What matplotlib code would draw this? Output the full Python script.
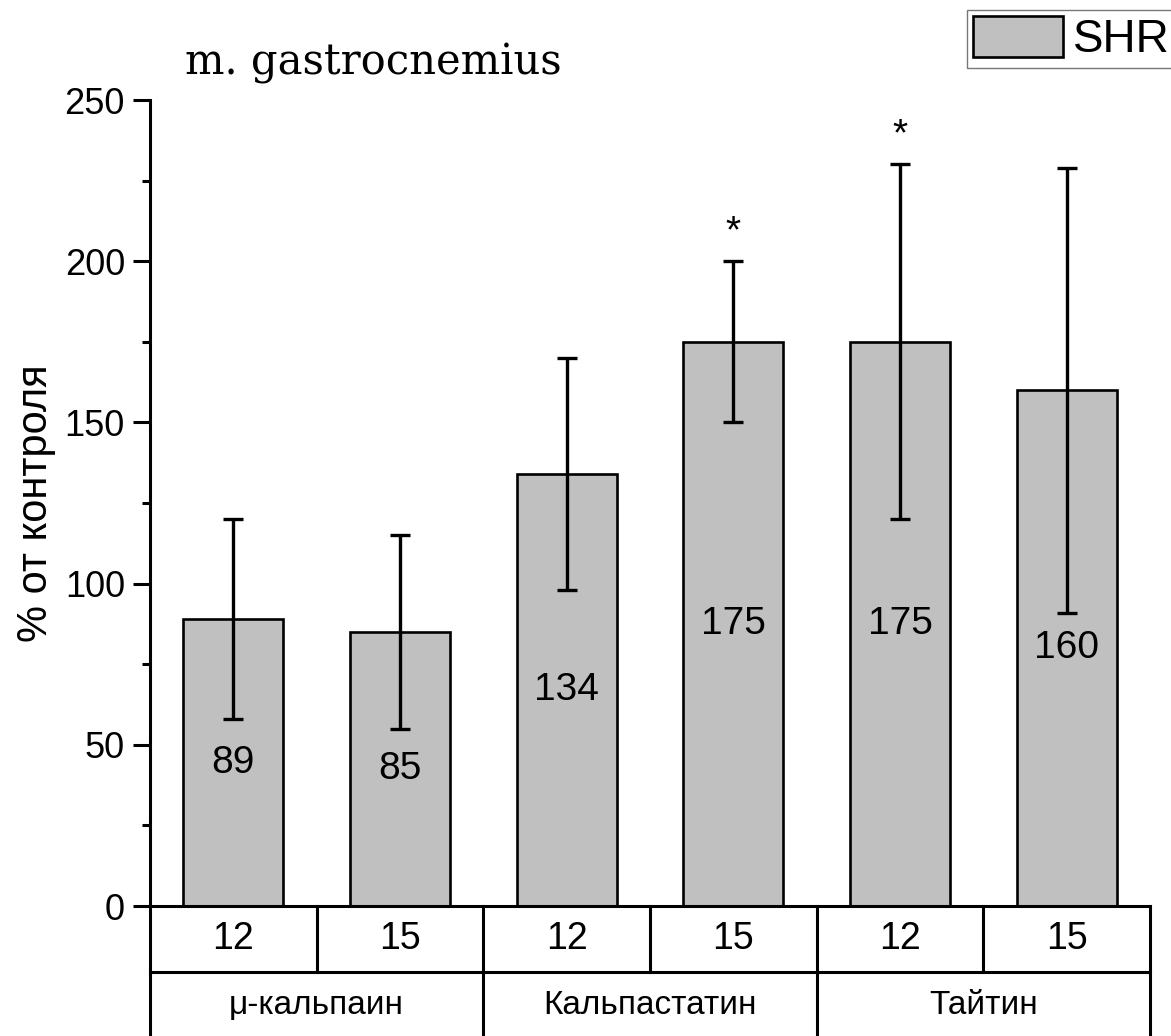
import matplotlib
matplotlib.use("Agg")
import matplotlib.pyplot as plt
import numpy as np

plt.rcParams['font.family'] = ['Liberation Sans', 'DejaVu Sans']

# Data
proteins = ["μ-кальпаин", "Кальпастатин", "Тайтин"]
ages = ["12", "15", "12", "15", "12", "15"]
values = [89, 85, 134, 175, 175, 160]
err_upper = [120, 115, 170, 200, 230, 229]
err_lower = [58, 55, 98, 150, 120, 91]
significant = [False, False, False, True, True, False]

W, H = 1171, 1036
fig = plt.figure(figsize=(W / 100, H / 100), dpi=100)

# Main bar axes
ax = fig.add_axes([150 / W, (H - 906) / H, 1000 / W, 806 / H])
x = np.arange(len(values))
yerr = [np.array(values) - np.array(err_lower), np.array(err_upper) - np.array(values)]
ax.bar(x, values, width=0.6, color="#c0c0c0", edgecolor="black", linewidth=1.9,
       label="SHR", zorder=2)
ax.errorbar(x, values, yerr=yerr, fmt="none", ecolor="black", elinewidth=2.4,
            capsize=7, capthick=2.4, zorder=3)

for xi, v in zip(x, values):
    ax.text(xi, v / 2, str(v), ha="center", va="center", fontsize=28, zorder=4)
for xi, top, sig in zip(x, err_upper, significant):
    if sig:
        ax.text(xi, top + 9, "*", ha="center", va="center", fontsize=28)

ax.set_xlim(-0.5, len(values) - 0.5)
ax.set_ylim(0, 250)
ax.set_yticks(np.arange(0, 251, 50))
ax.set_yticks(np.arange(25, 250, 50), minor=True)
ax.set_xticks([])
for s in ["top", "right", "bottom"]:
    ax.spines[s].set_visible(False)
ax.spines["left"].set_linewidth(2.2)
ax.tick_params(axis="y", which="major", direction="out", length=12, width=2.2,
               labelsize=26, pad=6)
ax.tick_params(axis="y", which="minor", direction="out", length=6, width=2.2)
ax.set_ylabel("% от контроля", fontsize=30, labelpad=6)
ax.set_title("m. gastrocnemius", fontsize=30, family="DejaVu Serif",
             loc="left", x=0.035, y=1.0, pad=18)

# Category table under the bars
tab = fig.add_axes([150 / W, (H - 1038) / H, 1000 / W, 132 / H])
tab.set_xlim(-0.5, len(values) - 0.5)
tab.set_ylim(0, 2)
tab.axis("off")
lw = 2.2
tab.plot([-0.5, len(values) - 0.5], [2, 2], color="black", lw=lw, clip_on=False)
tab.plot([-0.5, len(values) - 0.5], [1, 1], color="black", lw=lw, clip_on=False)
tab.plot([-0.5, -0.5], [0, 2], color="black", lw=lw, clip_on=False)
tab.plot([len(values) - 0.5] * 2, [0, 2], color="black", lw=lw, clip_on=False)
for i in range(1, len(values)):
    tab.plot([i - 0.5, i - 0.5], [1, 2] if i % 2 else [0, 2], color="black",
             lw=lw, clip_on=False)
for xi, a in zip(x, ages):
    tab.text(xi, 1.5, a, ha="center", va="center", fontsize=27)
for gi, p in enumerate(proteins):
    tab.text(2 * gi + 0.5, 0.5, p, ha="center", va="center", fontsize=24)

# Legend
handles, labels = ax.get_legend_handles_labels()
leg = fig.legend(handles, labels, loc="upper left",
                 bbox_to_anchor=(967 / W, 1 - 10 / H), fontsize=33,
                 frameon=True, fancybox=False, edgecolor="#555555",
                 handlelength=1.96, handleheight=1.0, borderpad=0.13,
                 handletextpad=0.23, borderaxespad=0)
leg.get_frame().set_linewidth(1.0)

fig.savefig("out.png", dpi=100)
